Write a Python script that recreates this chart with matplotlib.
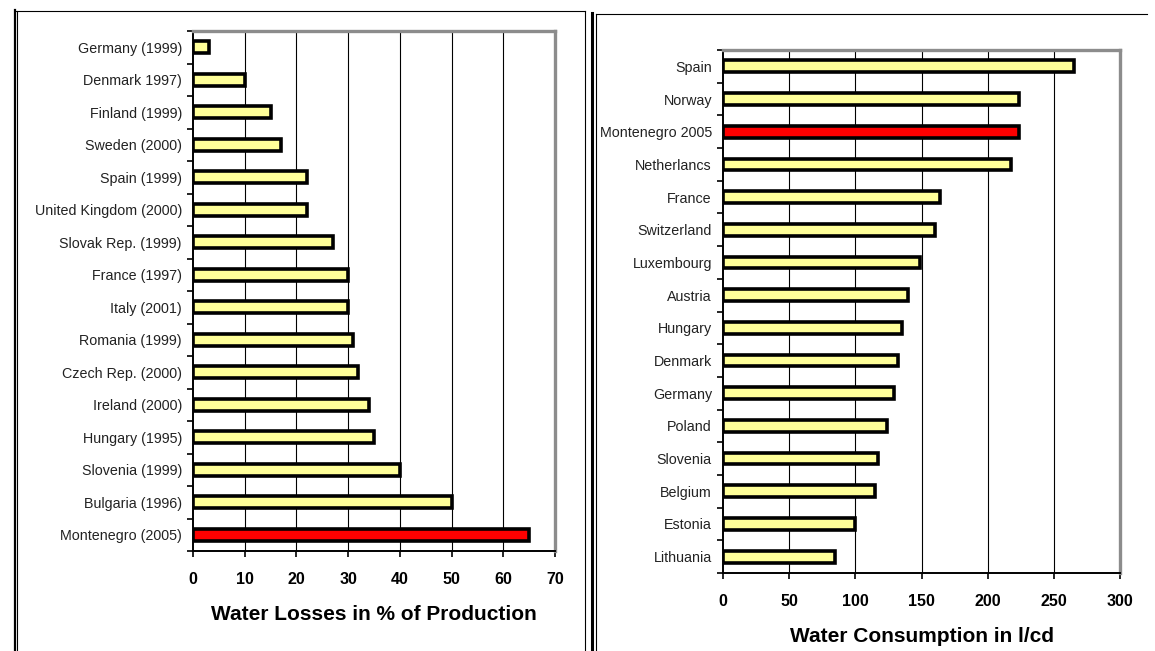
import matplotlib
matplotlib.use("Agg")
import matplotlib.pyplot as plt
from matplotlib.lines import Line2D
import numpy as np

plt.rcParams["font.family"] = ["Liberation Sans", "DejaVu Sans"]

# water losses, % of production
loss_countries = ["Germany (1999)", "Denmark 1997)", "Finland (1999)", "Sweden (2000)",
                  "Spain (1999)", "United Kingdom (2000)", "Slovak Rep. (1999)",
                  "France (1997)", "Italy (2001)", "Romania (1999)", "Czech Rep. (2000)",
                  "Ireland (2000)", "Hungary (1995)", "Slovenia (1999)",
                  "Bulgaria (1996)", "Montenegro (2005)"]
loss_values = [3, 10, 15, 17, 22, 22, 27, 30, 30, 31, 32, 34, 35, 40, 50, 65]
loss_ticks = [0, 10, 20, 30, 40, 50, 60, 70]

# water consumption, l/cd
use_countries = ["Spain", "Norway", "Montenegro 2005", "Netherlancs", "France",
                 "Switzerland", "Luxembourg", "Austria", "Hungary", "Denmark",
                 "Germany", "Poland", "Slovenia", "Belgium", "Estonia", "Lithuania"]
use_values = [265, 224, 224, 218, 164, 160, 149, 140, 135, 132, 129, 124, 117, 115, 100, 85]
use_ticks = [0, 50, 100, 150, 200, 250, 300]

YELLOW = "#ffff99"
RED = "#ff0000"
W, H = 1155, 651

fig = plt.figure(figsize=(W / 100, H / 100), dpi=100)


def px_rect(x0, y_top, x1, y_bot):
    return [x0 / W, 1 - y_bot / H, (x1 - x0) / W, (y_bot - y_top) / H]


def draw_panel(ax, names, values, ticks, highlight, title):
    n = len(names)
    pos = np.arange(n)
    colors = [RED if name == highlight else YELLOW for name in names]
    ax.barh(pos, values, height=0.36, color=colors, edgecolor="black",
            linewidth=2.6, zorder=3)
    ax.set_ylim(n - 0.5, -0.5)
    ax.set_xlim(ticks[0], ticks[-1])

    ax.set_yticks(pos)
    ax.set_yticklabels(names, fontsize=10.3, color="#222222")
    ax.set_yticks(np.arange(n + 1) - 0.5, minor=True)
    ax.tick_params(axis="y", which="major", length=0, pad=8)
    ax.tick_params(axis="y", which="minor", length=4, width=1.2, direction="out")

    ax.set_xticks(ticks)
    ax.set_xticklabels([str(t) for t in ticks], fontsize=11.5, fontweight="bold")
    ax.tick_params(axis="x", length=4, width=1.2, direction="out", pad=11)

    for t in ticks[1:-1]:
        ax.axvline(t, color="black", linewidth=0.8, zorder=1)

    for side in ("top", "right"):
        ax.spines[side].set_color("#8c8c8c")
        ax.spines[side].set_linewidth(2.4)
    for side in ("left", "bottom"):
        ax.spines[side].set_color("black")
        ax.spines[side].set_linewidth(1.4)

    ax.set_xlabel(title, fontsize=15, fontweight="bold", labelpad=13)


ax1 = fig.add_axes(px_rect(193, 31, 555, 551))
draw_panel(ax1, loss_countries, loss_values, loss_ticks, "Montenegro (2005)",
           "Water Losses in % of Production")

ax2 = fig.add_axes(px_rect(723, 50, 1120, 573))
draw_panel(ax2, use_countries, use_values, use_ticks, "Montenegro 2005",
           "Water Consumption in l/cd")


# frames around the two panels, in pixel coordinates
def frame_line(xs, ys, lw):
    fig.add_artist(Line2D([x / W for x in xs], [1 - y / H for y in ys],
                          color="black", linewidth=lw, transform=fig.transFigure))


frame_line([14.5, 14.5], [10, H], 1.6)
frame_line([16.5, 16.5], [11, H], 0.8)
frame_line([16, 585], [11, 11], 0.8)
frame_line([585, 585], [11, H], 0.8)
frame_line([591.5, 591.5], [13, H], 2.2)
frame_line([596, 596], [14, H], 0.8)
frame_line([596, 1147], [14, 14], 0.8)

fig.savefig("out.png", dpi=100)
